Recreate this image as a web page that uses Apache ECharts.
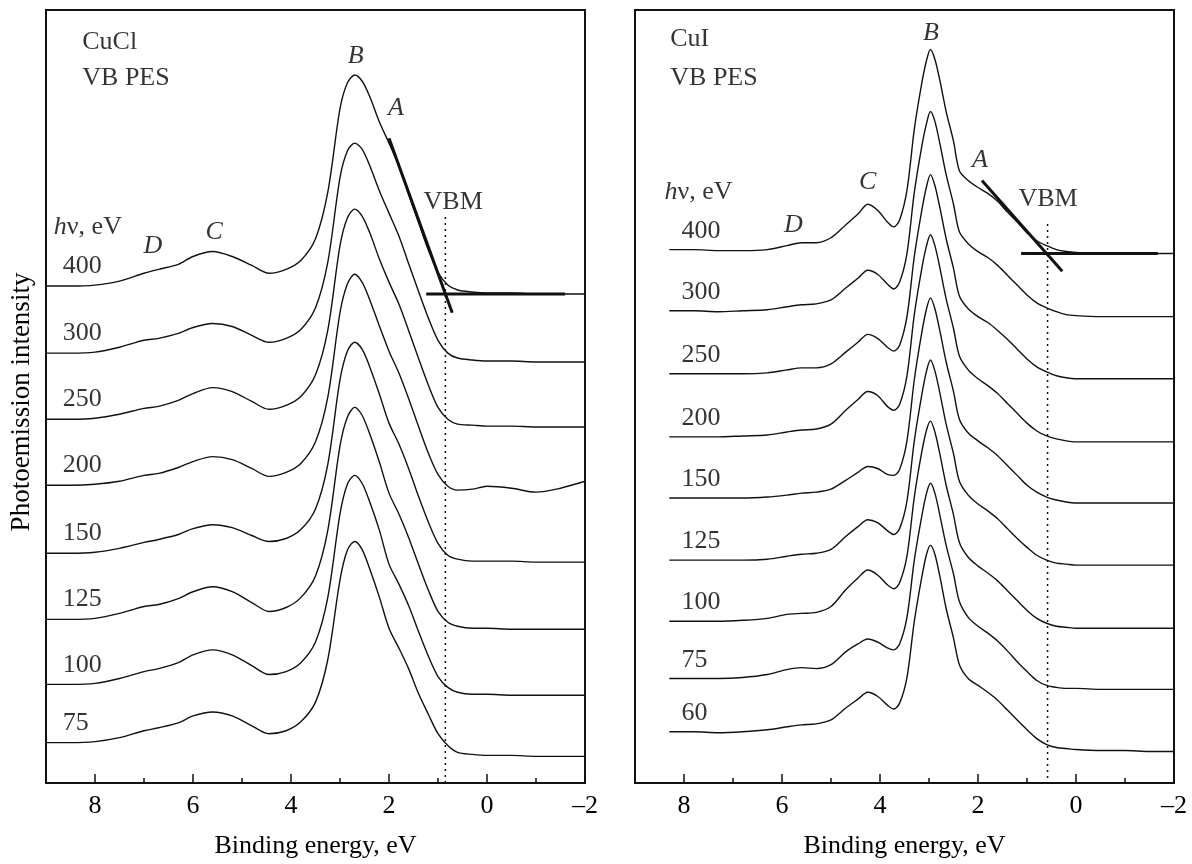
<!DOCTYPE html>
<html><head><meta charset="utf-8">
<script src="https://cdn.jsdelivr.net/npm/echarts@6/dist/echarts.min.js"></script>
<style>html,body{margin:0;padding:0;background:#fff}#c{width:1192px;height:864px}</style>
</head><body><div id="c"></div>
<script>
// ---------- DATA ----------
const energyCuCl = [9,8.5,8,7.5,7,6.7,6.3,6,5.6,5.2,4.8,4.45,4.1,3.8,3.5,3.25,3.0,2.85,2.7,2.55,2.4,2.2,2.0,1.8,1.6,1.4,1.2,1.0,0.8,0.6,0.3,0,-0.5,-1,-1.5,-2];
const photonCuCl = [400,300,250,200,150,125,100,75];
const offsetCuCl = [504,436,369,302,233,166,100,41];
const cucl400 = [0,0,1,5,13,17,22,30,35,30,21,13,17,26,48,95,180,206,214,208,193,167,145,122,93,65,37,14,1,-4,-6,-7,-7,-8,-8,-8];
const cucl300 = [0,0,1,6,13,15,20,26,30,27,18,11,15,24,46,92,178,205,213,207,191,165,142,119,91,63,36,13,0,-5,-7,-8,-8,-9,-9,-9];
const cucl250 = [0,0,1,5,11,13,19,26,32,28,18,10,14,23,45,90,176,204,213,206,190,163,139,117,90,62,35,12,0,-5,-6,-7,-7,-8,-8,-8];
const cucl200 = [0,0,1,4,10,12,18,24,29,26,17,9,13,22,44,89,175,204,214,206,189,162,136,114,88,60,33,11,-1,-5,-4,-1,-3,-7,-3,4];
const cucl150 = [0,0,1,5,11,14,19,25,29,26,18,12,15,24,45,90,176,205,214,207,190,162,132,111,86,58,32,10,-2,-6,-8,-8,-8,-9,-9,-9];
const cucl125 = [0,0,1,6,13,15,21,28,33,28,17,8,12,22,44,90,176,205,215,207,189,160,128,107,83,56,30,8,-3,-7,-9,-9,-10,-10,-10,-10];
const cucl100 = [0,0,1,6,13,16,22,30,35,30,19,10,13,22,43,88,173,203,212,204,186,157,122,102,80,54,29,8,-3,-8,-10,-10,-11,-11,-11,-11];
const cucl75  = [0,0,1,5,12,15,20,27,31,27,17,9,12,21,41,84,165,195,204,196,177,148,116,96,75,50,29,9,-3,-10,-12,-13,-13,-14,-14,-14];
const spectraCuCl = [cucl400,cucl300,cucl250,cucl200,cucl150,cucl125,cucl100,cucl75];

const energyCuI = [8.3,7.8,7.3,6.8,6.3,5.9,5.6,5.3,5.0,4.7,4.45,4.25,4.05,3.85,3.72,3.6,3.45,3.3,3.15,3.05,2.97,2.88,2.78,2.65,2.5,2.38,2.2,2.0,1.8,1.6,1.4,1.2,1.0,0.8,0.6,0.4,0.2,0,-0.5,-1,-1.5,-2];
const photonCuI = [400,300,250,200,150,125,100,75,60];
const offsetCuI = [541,479,415,351,289,226,164,106,52];
const cui400 = [0,0,-1,-1,0,4,7,7,12,25,36,46,40,28,23,30,60,122,168,192,203,193,172,140,110,80,70,63,57,49,38,28,17,9,4,0,-2,-3,-4,-4,-4,-4];
const cui300 = [0,0,-1,0,1,4,6,7,11,23,33,41,37,27,22,29,58,120,166,190,202,192,170,138,108,80,68,60,54,46,36,26,16,8,3,-1,-4,-5,-6,-6,-6,-6];
const cui250 = [0,0,0,0,1,4,6,6,10,22,32,40,36,27,23,29,58,119,165,190,202,191,169,137,107,79,66,58,52,44,35,25,15,7,2,-2,-4,-5,-5,-5,-5,-5];
const cui200 = [0,0,0,1,2,5,7,8,13,27,38,46,42,31,27,33,62,124,170,194,205,194,172,140,110,82,68,59,52,44,34,24,14,6,1,-2,-4,-5,-5,-5,-5,-5];
const cui150 = [0,0,0,0,1,3,5,6,9,18,26,32,30,24,23,29,58,120,167,192,203,192,170,138,108,80,66,58,51,43,33,23,13,6,1,-2,-4,-5,-5,-5,-5,-5];
const cui125 = [0,0,0,0,1,4,6,7,11,24,34,41,38,30,26,32,60,121,167,192,203,192,170,138,108,80,66,57,50,42,32,22,13,5,0,-3,-4,-5,-5,-5,-5,-5];
const cui100 = [0,0,0,1,3,7,8,9,15,32,44,52,47,37,33,39,66,126,171,194,203,192,170,138,108,80,65,56,49,41,31,21,11,3,-2,-5,-6,-7,-7,-7,-7,-7];
const cui75  = [0,0,0,1,4,9,11,10,14,27,35,40,37,31,29,35,62,120,164,188,198,188,166,135,106,78,62,53,46,38,28,17,7,-2,-7,-9,-10,-10,-11,-11,-11,-11];
const cui60  = [0,0,-1,0,2,5,7,8,12,24,33,40,36,27,23,29,55,112,156,180,189,180,158,125,95,68,54,47,40,32,22,12,2,-7,-13,-16,-17,-18,-19,-19,-20,-20];
const spectraCuI = [cui400,cui300,cui250,cui200,cui150,cui125,cui100,cui75,cui60];

// VBM construction lines [E, intensity]
const tangentCuCl = [[2.0,654],[0.71,477]];
const levelCuCl = [[1.24,496],[-1.59,496]];
const vbmCuCl = [[0.85,574],[0.85,0]];
const tangentCuI = [[1.92,611],[0.28,519]];
const levelCuI = [[1.12,537],[-1.67,537]];
const vbmCuI = [[0.58,567],[0.58,0]];

const tickValues = [-2,0,2,4,6,8];

// annotations: [text, E, y, align, style]
const notesCuCl = [
  ['CuCl',8.26,751,'left','normal'],
  ['VB PES',8.26,715,'left','normal'],
  ['B',2.68,737,'center','italic'],
  ['A',1.86,684,'center','italic'],
  ['VBM',0.69,589,'center','normal'],
  ['C',5.57,559,'center','italic'],
  ['D',6.82,544,'center','italic'],
  ['{i|h}ν, eV',8.84,564,'left','normal']
];
const notesCuI = [
  ['CuI',8.28,754,'left','normal'],
  ['VB PES',8.28,715,'left','normal'],
  ['B',2.96,761,'center','italic'],
  ['A',1.96,632,'center','italic'],
  ['VBM',0.57,592,'center','normal'],
  ['C',4.25,609,'center','italic'],
  ['D',5.77,566,'center','italic'],
  ['{i|h}ν, eV',8.4,599,'left','normal']
];

// ---------- CHART ----------
const FONT = 'Liberation Serif';
const INK = '#111';
const FS = 26;
const chart = echarts.init(document.getElementById('c'), null, {renderer:'canvas'});

function curveSeries(energy, spectra, offsets, idx) {
  return spectra.map((s, k) => ({
    type:'line', xAxisIndex: idx*2, yAxisIndex: idx, symbol:'none', smooth:0.3,
    lineStyle:{color:INK, width:1.4}, silent:true, z:3,
    data: energy.map((e, j) => [e, offsets[k] + s[j]])
  }));
}
function lineSeries(pts, idx, width, type) {
  return {type:'line', xAxisIndex: idx*2, yAxisIndex: idx, symbol:'none', silent:true, z:4,
    lineStyle:{color:INK, width:width, type:type||'solid'}, data: pts};
}
const rich = {i:{fontStyle:'italic', fontFamily:FONT, fontSize:FS, color:'#000', textBorderWidth:0}};
function noteSeries(notes, idx) {
  return {type:'scatter', xAxisIndex: idx*2, yAxisIndex: idx, symbolSize:1, silent:true, z:5,
    itemStyle:{color:'rgba(0,0,0,0)'},
    data: notes.map(n => ({name:n[0], value:[n[1], n[2]],
      label:{show:true, position:'inside', formatter:n[0], align:n[3], verticalAlign:'middle',
        fontFamily:FONT, fontSize:FS, fontStyle:n[4], color:'#000', textBorderWidth:0, rich:rich}}))
  };
}
function photonSeries(photons, offsets, E, gap, idx) {
  return {type:'scatter', xAxisIndex: idx*2, yAxisIndex: idx, symbolSize:1, silent:true, z:5,
    itemStyle:{color:'rgba(0,0,0,0)'},
    data: photons.map((p,k) => ({name:String(p), value:[E, offsets[k]+gap],
      label:{show:true, position:'inside', formatter:String(p), align:'left', verticalAlign:'middle',
        fontFamily:FONT, fontSize:FS, color:'#000', textBorderWidth:0}}))
  };
}

const grids = [
  {left:46, width:539, top:10, height:784, show:true, borderColor:INK, borderWidth:2, backgroundColor:'transparent'},
  {left:635, width:539, top:10, height:784, show:true, borderColor:INK, borderWidth:2, backgroundColor:'transparent'}
];
const xAxes = [];
[0,1].forEach(i => {
  xAxes.push({gridIndex:i, type:'value', min:-2, max:9, inverse:true, interval:2, position:'bottom',
    axisLine:{show:true, onZero:false, lineStyle:{color:INK, width:2}},
    axisTick:{show:true, inside:true, length:9, lineStyle:{color:INK, width:1.5}},
    axisLabel:{show:true, showMaxLabel:false, color:'#000', fontFamily:FONT, fontSize:FS, margin:10,
      formatter: v => tickValues.includes(v) ? String(v).replace('-', '\u2013') : ''},
    splitLine:{show:false},
    name:'Binding energy, eV', nameLocation:'middle', nameGap:50,
    nameTextStyle:{color:'#000', fontFamily:FONT, fontSize:FS}});
  xAxes.push({gridIndex:i, type:'value', min:-2, max:9, inverse:true, interval:1, position:'bottom',
    axisLine:{show:false, onZero:false}, axisLabel:{show:false}, splitLine:{show:false},
    axisTick:{show:true, inside:true, length:5, lineStyle:{color:INK, width:1.5}}});
});
const yAxes = [0,1].map(i => ({gridIndex:i, type:'value', min:0, max:784,
  axisLine:{show:false}, axisTick:{show:false}, axisLabel:{show:false}, splitLine:{show:false}}));

const series = [].concat(
  curveSeries(energyCuCl, spectraCuCl, offsetCuCl, 0),
  curveSeries(energyCuI, spectraCuI, offsetCuI, 1),
  [lineSeries(tangentCuCl,0,3), lineSeries(levelCuCl,0,3), lineSeries(vbmCuCl,0,1.5,[2,4]),
   lineSeries(tangentCuI,1,3), lineSeries(levelCuI,1,3), lineSeries(vbmCuI,1,1.5,[2,4]),
   noteSeries(notesCuCl,0), noteSeries(notesCuI,1),
   photonSeries(photonCuCl, offsetCuCl, 8.66, 20, 0),
   photonSeries(photonCuI, offsetCuI, 8.05, 19, 1)]
);

chart.setOption({
  animation:false, backgroundColor:'#fff',
  grid: grids, xAxis: xAxes, yAxis: yAxes, series: series,
  graphic:[{type:'text', x:22, y:402, rotation:Math.PI/2, silent:true,
    style:{text:'Photoemission intensity', fill:'#000', font:'27px "Liberation Serif"', align:'center', verticalAlign:'middle'}}]
});
</script></body></html>
